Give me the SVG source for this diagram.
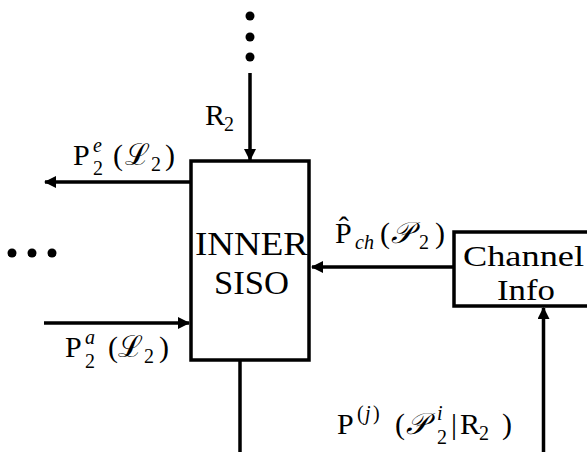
<svg xmlns="http://www.w3.org/2000/svg" width="587" height="452" viewBox="0 0 587 452">
<style>
text{font-family:'Liberation Serif','DejaVu Serif','Noto Serif','Times New Roman',Times,serif;fill:#000}
.big{font-size:34px}
.ci{font-size:29px}
.lab{font-size:30px}
.s{font-size:20px}
.i{font-style:italic}
.box{fill:#fff;stroke:#000;stroke-width:3.5}
.ln{fill:none;stroke:#000;stroke-width:3.5}
</style>
<defs>
<marker id="ah" viewBox="0 0 12 12" refX="11" refY="6" markerWidth="12" markerHeight="12" markerUnits="userSpaceOnUse" orient="auto">
<path d="M0,0 L12,6 L0,12 Z" fill="#000"/>
</marker>
</defs>
<rect width="587" height="452" fill="#fff"/>
<g id="connectors">
<line class="ln" x1="250" y1="73" x2="250" y2="160" marker-end="url(#ah)"/>
<line class="ln" x1="190" y1="182" x2="45" y2="182" marker-end="url(#ah)"/>
<line class="ln" x1="44" y1="323" x2="189" y2="323" marker-end="url(#ah)"/>
<line class="ln" x1="454" y1="267" x2="312" y2="267" marker-end="url(#ah)"/>
<line class="ln" x1="543.5" y1="452" x2="543.5" y2="308" marker-end="url(#ah)"/>
<line class="ln" x1="240" y1="360" x2="240" y2="452"/>
</g>
<g id="dots-top">
<circle cx="250" cy="16" r="4.5"/>
<circle cx="250" cy="37" r="4.5"/>
<circle cx="250" cy="57" r="4.5"/>
</g>
<g id="dots-left">
<circle cx="12" cy="253" r="4.5"/>
<circle cx="32" cy="253" r="4.5"/>
<circle cx="52" cy="253" r="4.5"/>
</g>
<g id="inner-siso">
<rect class="box" x="191" y="161" width="118" height="199"/>
<text class="big" x="195" y="255" textLength="113" lengthAdjust="spacingAndGlyphs">INNER</text>
<text class="big" x="214" y="294" textLength="75" lengthAdjust="spacingAndGlyphs">SISO</text>
</g>
<g id="channel-info">
<rect class="box" x="454" y="232" width="150" height="74"/>
<text class="ci" x="463" y="266" textLength="121" lengthAdjust="spacingAndGlyphs">Channel</text>
<text class="ci" x="497" y="300" textLength="58" lengthAdjust="spacingAndGlyphs">Info</text>
</g>
<g id="labels">
<text class="lab"><tspan x="205" y="125">R</tspan><tspan class="s" x="224" y="131">2</tspan></text>
<text class="lab"><tspan x="73" y="165">P</tspan><tspan class="s i" x="93" y="152">e</tspan><tspan class="s" x="93" y="175">2</tspan><tspan x="113" y="165">(</tspan><tspan class="i" x="125" y="165">ℒ</tspan><tspan class="s" x="151" y="171">2</tspan><tspan x="165" y="165">)</tspan></text>
<text class="lab"><tspan x="65" y="357">P</tspan><tspan class="s i" x="85" y="344">a</tspan><tspan class="s" x="85" y="368">2</tspan><tspan x="108" y="357">(</tspan><tspan class="i" x="118" y="357">ℒ</tspan><tspan class="s" x="144" y="363">2</tspan><tspan x="159" y="357">)</tspan></text>
<text class="lab"><tspan x="335" y="243">P̂</tspan><tspan class="s i" x="355" y="249">ch</tspan><tspan x="380" y="243">(</tspan><tspan class="i" x="391" y="243">𝒫</tspan><tspan class="s" x="419" y="249">2</tspan><tspan x="435" y="243">)</tspan></text>
<text class="lab"><tspan x="337" y="434">P</tspan><tspan class="s" x="357" y="420">(</tspan><tspan class="s i" x="365" y="420">j</tspan><tspan class="s" x="373" y="420">)</tspan><tspan x="395" y="434">(</tspan><tspan class="i" x="406" y="434">𝒫</tspan><tspan class="s i" x="437" y="420">i</tspan><tspan class="s" x="437" y="444">2</tspan><tspan x="451" y="434">|</tspan><tspan x="460" y="434">R</tspan><tspan class="s" x="479" y="440">2</tspan><tspan x="502" y="434">)</tspan></text>
</g>
</svg>
